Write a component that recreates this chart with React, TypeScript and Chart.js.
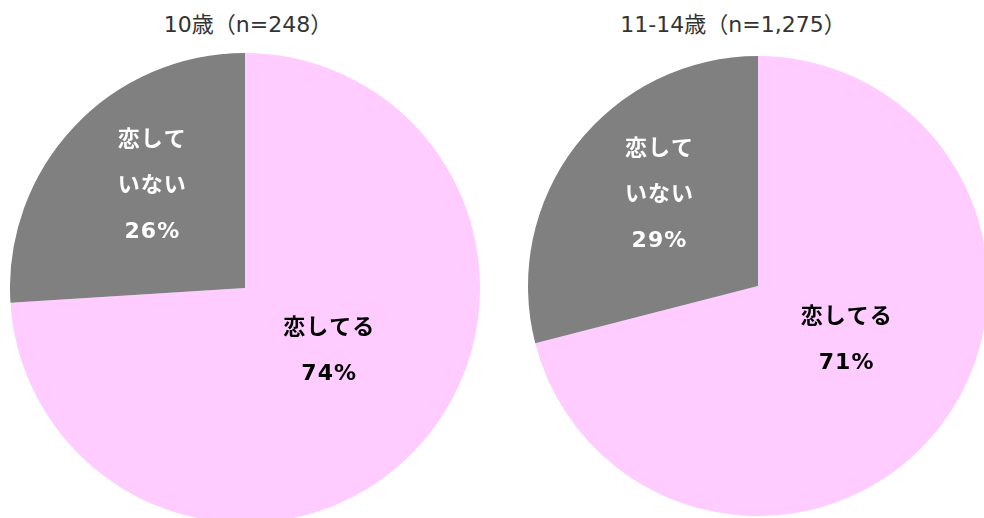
import React, { useEffect, useRef } from "react";
import { Chart, registerables } from "chart.js";

Chart.register(...registerables);

const titles = ["10歳（n=248）", "11-14歳（n=1,275）"];
const categories = ["恋してる", "恋していない"];
const labelLines = [["恋してる"], ["恋して", "いない"]];
const values10 = [74, 26];
const values1114 = [71, 29];
const seriesValues = [values10, values1114];

const sliceColors = ["#FFCCFF", "#808080"];
const labelColors = ["#000000", "#FFFFFF"];
const labelRadius = [0.43, 0.57];
const labelNudgeX = [10, 4.5];
const labelNudgeY = [-6, -10.5];

const labelPlugin = {
  id: "sliceLabels",
  afterDatasetsDraw(chart: any) {
    const ctx = chart.ctx;
    const meta = chart.getDatasetMeta(0);
    const data = chart.data.datasets[0].data as number[];
    ctx.save();
    ctx.font = 'bold 22px "DejaVu Sans", "Noto Sans CJK JP", sans-serif';
    (ctx as any).letterSpacing = "1px";
    ctx.textAlign = "center";
    ctx.textBaseline = "middle";
    meta.data.forEach((arc: any, i: number) => {
      const p = arc.getProps(["x", "y", "startAngle", "endAngle", "outerRadius"], true);
      const mid = (p.startAngle + p.endAngle) / 2;
      const cx = p.x + Math.cos(mid) * p.outerRadius * labelRadius[i] + labelNudgeX[i];
      const cy = p.y + Math.sin(mid) * p.outerRadius * labelRadius[i] + labelNudgeY[i];
      const lines = [...labelLines[i], `${data[i]}%`];
      const lh = 46;
      const y0 = cy - ((lines.length - 1) * lh) / 2;
      ctx.fillStyle = labelColors[i];
      lines.forEach((t, k) => ctx.fillText(t, cx + 0.5, y0 + k * lh));
    });
    ctx.restore();
  },
};

const boxes = [
  { left: 10, top: 53, size: 470, titleX: 248 },
  { left: 528, top: 56, size: 460, titleX: 733 },
];

function PieChart({ idx }: { idx: number }) {
  const ref = useRef<HTMLCanvasElement | null>(null);
  useEffect(() => {
    if (!ref.current) return;
    const chart = new Chart(ref.current, {
      type: "pie",
      data: {
        labels: categories,
        datasets: [
          {
            data: seriesValues[idx],
            backgroundColor: sliceColors,
            borderWidth: 0,
            hoverOffset: 0,
            offset: 0,
          },
        ],
      },
      options: {
        animation: false,
        responsive: true,
        maintainAspectRatio: false,
        layout: { padding: 0 },
        plugins: {
          legend: { display: false },
          tooltip: { enabled: false },
          title: { display: false },
        },
      },
      plugins: [labelPlugin],
    });
    return () => chart.destroy();
  }, [idx]);
  const b = boxes[idx];
  return (
    <>
      <div
        style={{
          position: "absolute",
          left: b.left,
          top: b.top,
          width: b.size,
          height: b.size,
        }}
      >
        <canvas ref={ref} />
      </div>
      <div
        style={{
          position: "absolute",
          left: b.titleX - 200,
          top: 11,
          width: 400,
          textAlign: "center",
          font: '22px "DejaVu Sans", "Noto Sans CJK JP", sans-serif',
          color: "#333333",
          lineHeight: "28px",
          whiteSpace: "nowrap",
        }}
      >
        {titles[idx]}
      </div>
    </>
  );
}

export default function App() {
  return (
    <div
      style={{
        position: "fixed",
        left: 0,
        top: 0,
        width: 984,
        height: 518,
        overflow: "hidden",
        background: "#ffffff",
      }}
    >
      <PieChart idx={0} />
      <PieChart idx={1} />
    </div>
  );
}
